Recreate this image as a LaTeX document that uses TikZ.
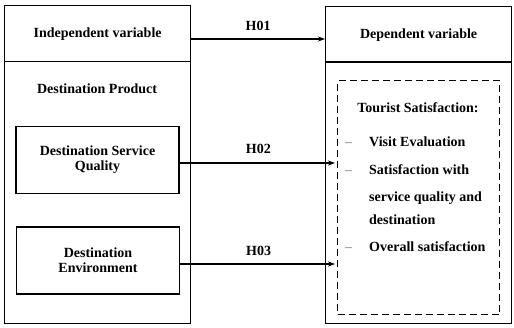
\documentclass[tikz,border=0pt]{standalone}
\usepackage{fontspec}
\setmainfont{Liberation Serif}
\usetikzlibrary{arrows.meta, positioning}

\begin{document}
\begin{tikzpicture}[x=1pt, y=-1pt, font=\fontsize{14}{17}\selectfont\bfseries, >={Stealth[length=7pt, width=5pt]}]
    \tikzstyle{head} = [rectangle, draw, line width=1.3pt, minimum width=186pt, minimum height=56pt, inner sep=0pt, anchor=north west]
    \tikzstyle{body} = [rectangle, draw, line width=1.3pt, minimum width=186pt, minimum height=262pt, inner sep=0pt, anchor=north west]
    \tikzstyle{factor} = [rectangle, draw, line width=1.3pt, minimum width=163pt, minimum height=67pt, align=center, inner sep=2pt]
    \tikzstyle{group} = [rectangle, draw, line width=1.3pt, dash pattern=on 7pt off 4pt, minimum width=162pt, minimum height=234pt, inner sep=0pt, anchor=north west]
    \tikzstyle{item} = [anchor=west, inner sep=0pt, text height=10pt, text depth=3pt]
    \tikzstyle{bullet} = [item, text=black!55, font=\fontsize{14}{17}\selectfont]
    \tikzstyle{link} = [->, line width=1.1pt]

    \useasboundingbox (0,0) rectangle (514,328);

    % independent side
    \node [body] (product) at (4,61) {};
    \node [head] (indep) at (4,5) {Independent variable};
    \node (prodlabel) at (97,89) {Destination Product};
    \node [factor] (quality) at (97.5,160) {Destination Service\\[-2pt]Quality};
    \node [factor] (environment) at (98,260.5) {Destination\\[-2pt]Environment};

    % dependent side
    \node [body] (outcome) at (325,61) {};
    \node [head] (dep) at (325,6) {Dependent variable};
    \node [group] (satisfaction) at (337,80) {};
    \node (satlabel) at (418,108) {Tourist Satisfaction:};
    \node [bullet] (dash1) at (345,143) {--};
    \node [item] (visit) at (369,143) {Visit Evaluation};
    \node [bullet] (dash2) at (345,171) {--};
    \node [item] (service1) at (369,171) {Satisfaction with};
    \node [item] (service2) at (369,198) {service quality and};
    \node [item] (service3) at (369,221) {destination};
    \node [bullet] (dash3) at (345,248) {--};
    \node [item] (overall) at (369,248) {Overall satisfaction};

    % hypotheses
    \draw [link] (indep.east |- 0,39) -- node [above=4pt] (h01) {H01} (dep.west |- 0,39);
    \draw [link, shorten >=2pt] ([yshift=-3pt]quality.east) -- node [above=5pt] (h02) {H02} (satisfaction.west |- 0,163);
    \draw [link, shorten >=2pt] ([yshift=-3.5pt]environment.east) -- node [above=4pt] (h03) {H03} (satisfaction.west |- 0,264);
\end{tikzpicture}
\end{document}
